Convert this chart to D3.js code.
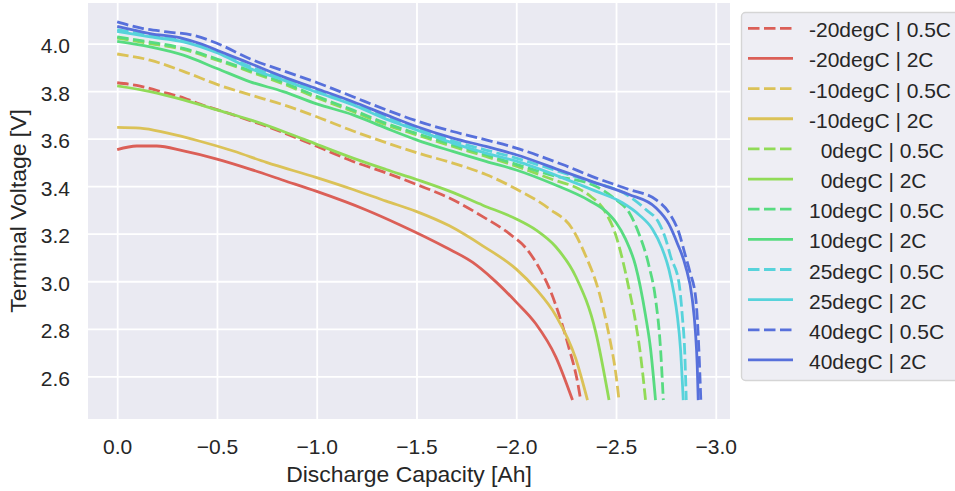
<!DOCTYPE html>
<html>
<head>
<meta charset="utf-8">
<script src="https://cdn.jsdelivr.net/npm/d3@7"></script>
<style>
  html, body { margin: 0; padding: 0; background: #ffffff; }
  svg { display: block; font-family: "Liberation Sans", Arial, sans-serif; }
</style>
</head>
<body>
<svg id="chart" width="955" height="491"></svg>
<script>
// Discharge curves: [capacity (Ah, negative = discharged), terminal voltage (V)]
const temperatures = ["-20degC", "-10degC", "  0degC", "10degC", "25degC", "40degC"];
const rates = ["0.5C", "2C"];

const m20_05 = [[0,3.835],[-0.115,3.821],[-0.248,3.791],[-0.332,3.772],[-0.415,3.745],[-0.5,3.722],[-0.582,3.700],[-0.667,3.675],[-0.748,3.652],[-0.833,3.625],[-1.0,3.568],[-1.182,3.504],[-1.348,3.456],[-1.5,3.407],[-1.665,3.350],[-1.832,3.272],[-1.965,3.200],[-2.048,3.140],[-2.115,3.056],[-2.165,2.972],[-2.215,2.858],[-2.265,2.717],[-2.307,2.577],[-2.323,2.5]];
const m20_2 = [[0,3.554],[-0.098,3.569],[-0.198,3.569],[-0.332,3.548],[-0.5,3.514],[-0.665,3.472],[-0.832,3.425],[-1.0,3.378],[-1.248,3.300],[-1.415,3.238],[-1.648,3.142],[-1.782,3.079],[-1.882,3.010],[-2.0,2.912],[-2.098,2.821],[-2.198,2.682],[-2.282,2.5]];
const m10_05 = [[0,3.956],[-0.165,3.930],[-0.332,3.883],[-0.5,3.828],[-0.667,3.784],[-0.833,3.742],[-1.0,3.692],[-1.182,3.632],[-1.348,3.583],[-1.5,3.541],[-1.682,3.497],[-1.848,3.449],[-2.0,3.388],[-2.165,3.305],[-2.282,3.219],[-2.348,3.107],[-2.415,2.954],[-2.465,2.773],[-2.5,2.605],[-2.515,2.5]];
const m10_2 = [[0,3.647],[-0.115,3.644],[-0.248,3.624],[-0.415,3.589],[-0.582,3.548],[-0.748,3.500],[-1.0,3.436],[-1.182,3.386],[-1.348,3.337],[-1.498,3.294],[-1.665,3.233],[-1.832,3.149],[-2.0,3.051],[-2.098,2.968],[-2.198,2.856],[-2.298,2.675],[-2.357,2.5]];
const p0_05 = [[0,4.023],[-0.165,4.000],[-0.332,3.975],[-0.5,3.930],[-0.667,3.881],[-0.833,3.830],[-1.0,3.772],[-1.182,3.714],[-1.348,3.658],[-1.5,3.616],[-1.682,3.567],[-1.848,3.525],[-2.0,3.484],[-2.182,3.428],[-2.315,3.388],[-2.365,3.362],[-2.448,3.289],[-2.5,3.191],[-2.532,3.093],[-2.565,2.968],[-2.598,2.829],[-2.623,2.689],[-2.648,2.5]];
const p0_2 = [[0,3.822],[-0.165,3.798],[-0.332,3.763],[-0.5,3.721],[-0.667,3.679],[-0.833,3.630],[-1.0,3.576],[-1.182,3.518],[-1.348,3.470],[-1.5,3.428],[-1.665,3.379],[-1.832,3.320],[-2.0,3.262],[-2.1,3.215],[-2.198,3.145],[-2.298,3.020],[-2.398,2.787],[-2.465,2.5]];
const p10_05 = [[0,4.028],[-0.165,4.006],[-0.332,3.980],[-0.5,3.935],[-0.667,3.886],[-0.833,3.836],[-1.0,3.778],[-1.182,3.720],[-1.348,3.664],[-1.5,3.622],[-1.682,3.574],[-1.848,3.532],[-2.0,3.492],[-2.182,3.445],[-2.398,3.400],[-2.498,3.344],[-2.565,3.290],[-2.615,3.200],[-2.665,3.065],[-2.698,2.926],[-2.723,2.717],[-2.737,2.5]];
const p10_2 = [[0,4.009],[-0.165,3.986],[-0.332,3.951],[-0.5,3.895],[-0.667,3.839],[-0.833,3.798],[-1.0,3.746],[-1.182,3.700],[-1.348,3.644],[-1.5,3.595],[-1.682,3.546],[-1.848,3.504],[-2.0,3.468],[-2.182,3.410],[-2.365,3.340],[-2.448,3.295],[-2.5,3.247],[-2.548,3.177],[-2.598,3.065],[-2.648,2.856],[-2.673,2.717],[-2.698,2.5]];
const p25_05 = [[0,4.058],[-0.165,4.035],[-0.332,4.012],[-0.5,3.966],[-0.667,3.902],[-0.833,3.852],[-1.0,3.801],[-1.182,3.748],[-1.348,3.690],[-1.5,3.645],[-1.682,3.590],[-1.848,3.552],[-2.0,3.518],[-2.182,3.470],[-2.365,3.421],[-2.565,3.358],[-2.648,3.303],[-2.715,3.245],[-2.748,3.180],[-2.775,3.100],[-2.815,2.996],[-2.832,2.856],[-2.845,2.689],[-2.852,2.5]];
const p25_2 = [[0,4.051],[-0.165,4.028],[-0.332,4.007],[-0.5,3.961],[-0.667,3.895],[-0.833,3.846],[-1.0,3.795],[-1.182,3.742],[-1.348,3.682],[-1.5,3.637],[-1.682,3.581],[-1.848,3.539],[-2.0,3.505],[-2.232,3.435],[-2.398,3.379],[-2.532,3.330],[-2.615,3.280],[-2.682,3.220],[-2.730,3.140],[-2.765,3.050],[-2.790,2.950],[-2.807,2.856],[-2.823,2.717],[-2.837,2.5]];
const p40_05 = [[0,4.091],[-0.13,4.063],[-0.25,4.049],[-0.38,4.035],[-0.5,4.001],[-0.667,3.935],[-0.833,3.885],[-1.0,3.836],[-1.182,3.776],[-1.348,3.721],[-1.5,3.675],[-1.682,3.630],[-1.848,3.595],[-2.0,3.560],[-2.232,3.491],[-2.398,3.435],[-2.565,3.386],[-2.698,3.344],[-2.765,3.289],[-2.815,3.205],[-2.848,3.107],[-2.870,3.040],[-2.900,2.926],[-2.915,2.716],[-2.925,2.5]];
const p40_2 = [[0,4.072],[-0.165,4.042],[-0.332,4.021],[-0.415,4.000],[-0.5,3.972],[-0.667,3.916],[-0.833,3.860],[-1.0,3.810],[-1.182,3.755],[-1.348,3.700],[-1.5,3.651],[-1.682,3.602],[-1.848,3.567],[-2.0,3.532],[-2.232,3.463],[-2.398,3.414],[-2.565,3.365],[-2.698,3.310],[-2.765,3.240],[-2.807,3.160],[-2.848,3.065],[-2.882,2.926],[-2.898,2.787],[-2.907,2.647],[-2.912,2.5]];

const xTicks = [0, -0.5, -1.0, -1.5, -2.0, -2.5, -3.0];
const yTicks = [2.6, 2.8, 3.0, 3.2, 3.4, 3.6, 3.8, 4.0];

// hls palette, one hue per temperature
const palette = ["#db5f57", "#dbc257", "#91db57", "#57db80", "#57d3db", "#5770db"];

const curves = [
  [m20_05, m20_2], [m10_05, m10_2], [p0_05, p0_2],
  [p10_05, p10_2], [p25_05, p25_2], [p40_05, p40_2]
];
const series = [];
temperatures.forEach((t, i) => {
  rates.forEach((r, j) => {
    series.push({ label: `${t} | ${r}`, color: palette[i], dashed: j === 0, values: curves[i][j] });
  });
});

// ---- layout ----
const svg = d3.select("#chart");
const plot = { left: 88, right: 730, top: 3, bottom: 419 };
const ink = "#262626";
const tickFont = 21, labelFont = 22.9;

const allPts = series.flatMap(s => s.values);
const xExt = d3.extent(allPts, d => d[0]);
const yExt = d3.extent(allPts, d => d[1]);
const xPad = (xExt[1] - xExt[0]) * 0.05, yPad = (yExt[1] - yExt[0]) * 0.05;

const x = d3.scaleLinear().domain([xExt[1] + xPad, xExt[0] - xPad]).range([plot.left, plot.right]);
const y = d3.scaleLinear().domain([yExt[0] - yPad, yExt[1] + yPad]).range([plot.bottom, plot.top]);

// axes background
svg.append("rect")
  .attr("x", plot.left).attr("y", plot.top)
  .attr("width", plot.right - plot.left).attr("height", plot.bottom - plot.top)
  .attr("fill", "#eaeaf2");

const fmt = d3.format(".1f");

// x grid + tick labels
const gx = svg.append("g")
  .attr("transform", `translate(0,${plot.bottom})`)
  .call(d3.axisBottom(x).tickValues(xTicks).tickFormat(fmt)
    .tickSizeInner(-(plot.bottom - plot.top)).tickSizeOuter(0));
gx.select(".domain").remove();
gx.selectAll(".tick line").attr("stroke", "#ffffff").attr("stroke-width", 1.8);
gx.selectAll(".tick text")
  .attr("y", 35).attr("dy", 0)
  .attr("fill", ink).attr("font-size", tickFont)
  .attr("font-family", "'Liberation Sans', Arial, sans-serif");

// y grid + tick labels
const gy = svg.append("g")
  .attr("transform", `translate(${plot.left},0)`)
  .call(d3.axisLeft(y).tickValues(yTicks).tickFormat(fmt)
    .tickSizeInner(-(plot.right - plot.left)).tickSizeOuter(0));
gy.select(".domain").remove();
gy.selectAll(".tick line").attr("stroke", "#ffffff").attr("stroke-width", 1.8);
gy.selectAll(".tick text")
  .attr("x", -18).attr("dy", "0.43em")
  .attr("fill", ink).attr("font-size", tickFont)
  .attr("font-family", "'Liberation Sans', Arial, sans-serif");

// axis titles
svg.append("text")
  .attr("x", (plot.left + plot.right) / 2).attr("y", 481.5)
  .attr("text-anchor", "middle").attr("fill", ink).attr("font-size", labelFont)
  .text("Discharge Capacity [Ah]");
svg.append("text")
  .attr("transform", `translate(25.5,${(plot.top + plot.bottom) / 2}) rotate(-90)`)
  .attr("text-anchor", "middle").attr("fill", ink).attr("font-size", labelFont)
  .text("Terminal Voltage [V]");

// curves
const line = d3.line().x(d => x(d[0])).y(d => y(d[1])).curve(d3.curveMonotoneX);
const dash = "11.5,4.5";
const lw = 2.8;

svg.append("g").selectAll("path").data(series).join("path")
  .attr("d", d => line(d.values))
  .attr("fill", "none")
  .attr("stroke", d => d.color)
  .attr("stroke-width", lw)
  .attr("stroke-dasharray", d => d.dashed ? dash : null)
  .attr("stroke-linejoin", "round");

// legend
const lg = svg.append("g");
lg.append("rect")
  .attr("x", 741.5).attr("y", 12.5).attr("width", 230).attr("height", 368)
  .attr("rx", 4).attr("ry", 4)
  .attr("fill", "#eeeef4").attr("stroke", "#d5d5d5").attr("stroke-width", 1.4);

const rowY = i => 28.3 + i * 30.15;
const items = lg.selectAll("g.item").data(series).join("g").attr("class", "item")
  .attr("transform", (d, i) => `translate(0,${rowY(i)})`);
items.append("line")
  .attr("x1", 748).attr("x2", 793).attr("y1", 0).attr("y2", 0)
  .attr("stroke", d => d.color).attr("stroke-width", lw)
  .attr("stroke-dasharray", d => d.dashed ? dash : null);
items.append("text")
  .attr("x", 809).attr("y", 9)
  .attr("fill", ink).attr("font-size", tickFont)
  .style("white-space", "pre")
  .text(d => d.label);
</script>
</body>
</html>
